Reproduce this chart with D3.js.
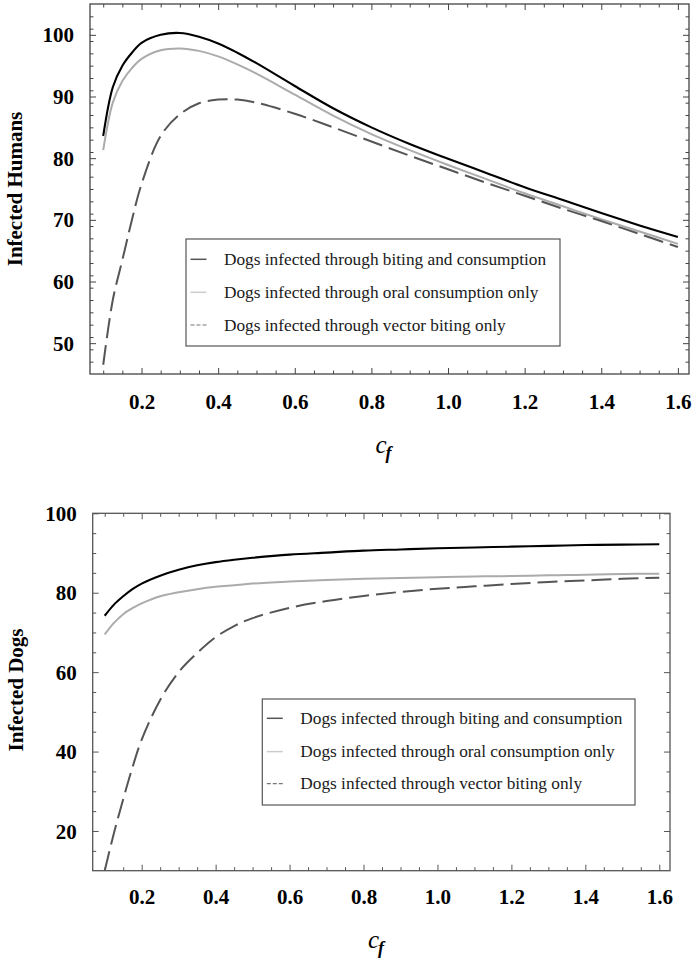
<!DOCTYPE html>
<html>
<head>
<meta charset="utf-8">
<script src="https://cdn.jsdelivr.net/npm/d3@7/dist/d3.min.js"></script>
<style>
  body { margin: 0; background: #fff; }
  svg { display: block; }
</style>
</head>
<body>
<svg id="chart" width="696" height="963"></svg>
<script>
// ---------- data ----------
const cf = [0.1, 0.125, 0.15, 0.175, 0.2, 0.25, 0.3, 0.35, 0.4, 0.45, 0.5, 0.6, 0.7, 0.8, 0.9, 1.0, 1.1, 1.2, 1.3, 1.4, 1.5, 1.6];

const humansBoth   = [83.6, 91.5, 95.0, 97.1, 98.7, 100.0, 100.3, 99.7, 98.6, 97.1, 95.4, 91.7, 88.1, 85.0, 82.3, 79.9, 77.6, 75.3, 73.2, 71.1, 69.1, 67.2];
const humansOral   = [81.3, 89.0, 92.5, 94.6, 96.1, 97.5, 97.8, 97.4, 96.5, 95.2, 93.7, 90.3, 86.9, 83.9, 81.3, 78.9, 76.6, 74.3, 72.2, 70.1, 68.1, 66.1];
const humansVector = [46.5, 57.0, 63.5, 70.0, 75.8, 83.6, 87.1, 88.9, 89.5, 89.5, 89.0, 87.2, 85.0, 82.7, 80.4, 78.2, 76.0, 73.9, 71.8, 69.8, 67.7, 65.6];

const dogsBoth   = [74.2, 77.0, 79.1, 80.9, 82.3, 84.3, 85.8, 86.9, 87.7, 88.3, 88.8, 89.6, 90.1, 90.6, 90.9, 91.2, 91.4, 91.6, 91.8, 92.0, 92.1, 92.2];
const dogsOral   = [69.5, 72.4, 74.6, 76.1, 77.3, 79.1, 80.1, 80.9, 81.5, 81.9, 82.3, 82.8, 83.2, 83.5, 83.7, 83.9, 84.1, 84.2, 84.4, 84.5, 84.7, 84.8];
const dogsVector = [10.0, 19.5, 28.0, 36.0, 43.0, 53.0, 60.0, 64.8, 68.8, 71.6, 73.6, 76.2, 77.9, 79.2, 80.2, 81.0, 81.6, 82.2, 82.7, 83.1, 83.5, 83.8];

const legendLabels = [
  "Dogs infected through biting and consumption",
  "Dogs infected through oral consumption only",
  "Dogs infected through vector biting only"
];

const xMajorTicks = [0.2, 0.4, 0.6, 0.8, 1.0, 1.2, 1.4, 1.6];
const humansYTicks = [50, 60, 70, 80, 90, 100];
const dogsYTicks = [20, 40, 60, 80, 100];

// ---------- layout / style ----------
const SERIF = '"Liberation Serif", "Times New Roman", Times, serif';
const seriesStyle = [
  { color: "#000000", width: 2.1, dash: null },
  { color: "#ababab", width: 2.0, dash: null },
  { color: "#555555", width: 2.0, dash: "20,7" }
];
const legendSampleStyle = [
  { color: "#555555", width: 1.5, dash: null },
  { color: "#cccccc", width: 1.5, dash: null },
  { color: "#777777", width: 1.2, dash: "4,2" }
];

const svg = d3.select("#chart");

function panel(cfg) {
  const g = svg.append("g");
  const x = d3.scaleLinear().domain(cfg.xDomain).range([cfg.left, cfg.right]);
  const y = d3.scaleLinear().domain(cfg.yDomain).range([cfg.bottom, cfg.top]);

  const xMinor = d3.range(0.05, 1.651, 0.05).map(v => +v.toFixed(3))
    .filter(v => v > cfg.xDomain[0] && v < cfg.xDomain[1] && !xMajorTicks.some(m => Math.abs(m - v) < 1e-6));
  const yMinor = d3.range(cfg.yDomain[0], cfg.yDomain[1] + 0.001, cfg.yMinorStep)
    .filter(v => v > cfg.yDomain[0] && v < cfg.yDomain[1] && !cfg.yTicks.includes(v));

  const clipId = "clip" + cfg.id;
  svg.append("clipPath").attr("id", clipId).append("rect")
    .attr("x", cfg.left).attr("y", cfg.top)
    .attr("width", cfg.right - cfg.left).attr("height", cfg.bottom - cfg.top);

  // curves
  const line = d3.line()
    .x(d => x(d[0])).y(d => y(d[1]))
    .curve(d3.curveCatmullRom.alpha(0.5));
  const curves = g.append("g").attr("clip-path", `url(#${clipId})`);
  cfg.series.forEach((s, i) => {
    const st = seriesStyle[i];
    curves.append("path")
      .datum(cf.map((c, k) => [c, s[k]]))
      .attr("d", line)
      .attr("fill", "none")
      .attr("stroke", st.color)
      .attr("stroke-width", st.width)
      .attr("stroke-dasharray", st.dash)
      .attr("stroke-linejoin", "round");
  });

  // axes (ticks pointing inward, Mathematica-style frame)
  const frameColor = cfg.frameColor;
  function styleAxis(sel) {
    sel.select(".domain").remove();
    sel.selectAll(".tick line").attr("stroke", frameColor).attr("stroke-width", 1);
  }
  // bottom
  const bot = g.append("g").attr("transform", `translate(0,${cfg.bottom})`)
    .call(d3.axisBottom(x).tickValues(xMajorTicks).tickSize(-6).tickFormat(d3.format(".1f")));
  styleAxis(bot);
  bot.selectAll(".tick text")
    .attr("y", cfg.xLabelOffset).attr("dy", null)
    .attr("font-family", SERIF).attr("font-weight", "bold").attr("font-size", 21).attr("fill", "#000");
  g.append("g").attr("transform", `translate(0,${cfg.bottom})`)
    .call(d3.axisBottom(x).tickValues(xMinor).tickSize(-3.5).tickFormat(""))
    .call(styleAxis);
  // top
  g.append("g").attr("transform", `translate(0,${cfg.top})`)
    .call(d3.axisTop(x).tickValues(xMajorTicks).tickSize(-6).tickFormat(""))
    .call(styleAxis);
  g.append("g").attr("transform", `translate(0,${cfg.top})`)
    .call(d3.axisTop(x).tickValues(xMinor).tickSize(-3.5).tickFormat(""))
    .call(styleAxis);
  // left
  const lef = g.append("g").attr("transform", `translate(${cfg.left},0)`)
    .call(d3.axisLeft(y).tickValues(cfg.yTicks).tickSize(-6).tickFormat(d3.format("d")));
  styleAxis(lef);
  lef.selectAll(".tick text")
    .attr("x", -16).attr("dy", "0.34em")
    .attr("font-family", SERIF).attr("font-weight", "bold").attr("font-size", 21).attr("fill", "#000");
  g.append("g").attr("transform", `translate(${cfg.left},0)`)
    .call(d3.axisLeft(y).tickValues(yMinor).tickSize(-3.5).tickFormat(""))
    .call(styleAxis);
  // right
  g.append("g").attr("transform", `translate(${cfg.right},0)`)
    .call(d3.axisRight(y).tickValues(cfg.yTicks).tickSize(-6).tickFormat(""))
    .call(styleAxis);
  g.append("g").attr("transform", `translate(${cfg.right},0)`)
    .call(d3.axisRight(y).tickValues(yMinor).tickSize(-3.5).tickFormat(""))
    .call(styleAxis);

  // frame
  g.append("rect")
    .attr("x", cfg.left).attr("y", cfg.top)
    .attr("width", cfg.right - cfg.left).attr("height", cfg.bottom - cfg.top)
    .attr("fill", "none").attr("stroke", frameColor).attr("stroke-width", 1.3);

  // y label
  g.append("text")
    .attr("transform", `translate(${cfg.yLabelX},${cfg.yLabelY}) rotate(-90)`)
    .attr("text-anchor", "middle")
    .attr("font-family", SERIF).attr("font-weight", "bold").attr("font-size", 21)
    .attr("fill", "#000")
    .text(cfg.yLabel);

  // x label c_f
  const xl = g.append("text")
    .attr("x", cfg.xTitleX).attr("y", cfg.xTitleY)
    .attr("font-family", SERIF).attr("fill", "#000");
  xl.append("tspan").attr("font-style", "italic").attr("font-size", 25).text("c");
  xl.append("tspan").attr("font-style", "italic").attr("font-weight", "bold")
    .attr("font-size", 18).attr("dx", -1).attr("dy", 6).text("f");

  // legend
  const L = cfg.legend;
  const lg = g.append("g");
  lg.append("rect")
    .attr("x", L.x).attr("y", L.y).attr("width", L.w).attr("height", L.h)
    .attr("fill", "#fff").attr("stroke", "#555").attr("stroke-width", 1.2);
  legendLabels.forEach((lab, i) => {
    const base = L.y + L.rows[i];
    const st = legendSampleStyle[i];
    lg.append("line")
      .attr("x1", L.x + 4.5).attr("x2", L.x + 20.5)
      .attr("y1", base - 5.7).attr("y2", base - 5.7)
      .attr("stroke", st.color).attr("stroke-width", st.width)
      .attr("stroke-dasharray", st.dash);
    lg.append("text")
      .attr("x", L.x + 38).attr("y", base)
      .attr("font-family", SERIF).attr("font-size", 17.3).attr("fill", "#1a1a1a")
      .text(lab);
  });
}

panel({
  id: "h",
  left: 90, right: 689, top: 4, bottom: 374,
  xDomain: [0.0655, 1.629], yDomain: [45, 105],
  yTicks: humansYTicks, yMinorStep: 2,
  series: [humansBoth, humansOral, humansVector],
  frameColor: "#444",
  xLabelOffset: 35,
  yLabel: "Infected Humans", yLabelX: 21.5, yLabelY: 189,
  xTitleX: 375.5, xTitleY: 452.5,
  legend: { x: 186, y: 239, w: 374, h: 107, rows: [26, 59, 91.7] }
});

panel({
  id: "d",
  left: 92.7, right: 670, top: 513.3, bottom: 870.7,
  xDomain: [0.0675, 1.629], yDomain: [10, 100],
  yTicks: dogsYTicks, yMinorStep: 5,
  series: [dogsBoth, dogsOral, dogsVector],
  frameColor: "#555",
  xLabelOffset: 33.3,
  yLabel: "Infected Dogs", yLabelX: 22.5, yLabelY: 690,
  xTitleX: 368, xTitleY: 948,
  legend: { x: 262.3, y: 699, w: 372.7, h: 106, rows: [25, 58.3, 90.3] }
});
</script>
</body>
</html>
